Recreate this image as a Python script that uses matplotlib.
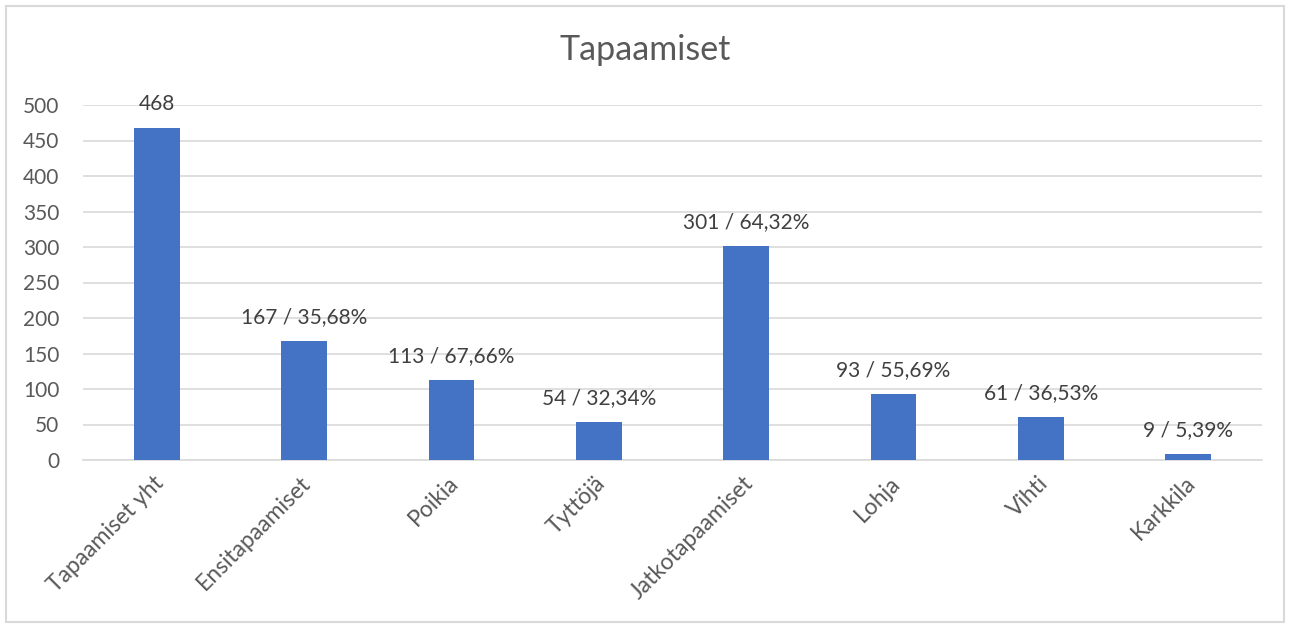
import matplotlib
matplotlib.use("Agg")
import matplotlib.pyplot as plt
import matplotlib.transforms as mtransforms
from matplotlib.patches import Rectangle

categories = ["Tapaamiset yht", "Ensitapaamiset", "Poikia", "Tyttöjä",
              "Jatkotapaamiset", "Lohja", "Vihti", "Karkkila"]
values = [468, 167, 113, 54, 301, 93, 61, 9]
labels = ["468", "167 / 35,68%", "113 / 67,66%", "54 / 32,34%",
          "301 / 64,32%", "93 / 55,69%", "61 / 36,53%", "9 / 5,39%"]
yticks = [0, 50, 100, 150, 200, 250, 300, 350, 400, 450, 500]

plt.rcParams['font.family'] = ['Lato', 'DejaVu Sans']
txt = '#595959'

fig = plt.figure(figsize=(12.9, 6.24), dpi=100)
ax = fig.add_axes([83/1290, 1-460/624, (1262-83)/1290, (460-105)/624])

x = list(range(len(categories)))
ax.bar(x, values, width=0.31, color='#4472C4', zorder=3)
for xi, v, lab in zip(x, values, labels):
    ax.annotate(lab, (xi, v), xytext=(0, 10), textcoords='offset points',
                ha='center', va='bottom', fontsize=15, color='#404040')

ax.set_xlim(-0.5, len(categories) - 0.5)
ax.set_ylim(0, 500)
ax.set_yticks(yticks)
ax.set_yticklabels([str(t) for t in yticks], fontsize=15, color=txt)
ax.set_xticks(x)
ax.set_xticklabels(categories, rotation=45, ha='right', va='top',
                   rotation_mode='anchor', fontsize=16.5, color=txt)
ax.tick_params(axis='both', length=0)
ax.tick_params(axis='y', pad=17)
ax.tick_params(axis='x', pad=9)
shift = mtransforms.ScaledTranslation(-4/100, 0, fig.dpi_scale_trans)
for t in ax.get_xticklabels():
    t.set_transform(t.get_transform() + shift)
ax.grid(axis='y', color='#d9d9d9', linewidth=1.2, zorder=0)
for s in ['top', 'right', 'left']:
    ax.spines[s].set_visible(False)
ax.spines['bottom'].set_color('#d9d9d9')
ax.spines['bottom'].set_linewidth(1.2)

fig.text(0.5, 1 - 50/624, "Tapaamiset", ha='center', va='center',
         fontsize=24.5, color=txt)

fig.patches.append(Rectangle((6/1290, 2/624), 1278/1290, 616/624,
                             transform=fig.transFigure, fill=False,
                             edgecolor='#d9d9d9', linewidth=1.5))

fig.savefig("out.png", dpi=100)
